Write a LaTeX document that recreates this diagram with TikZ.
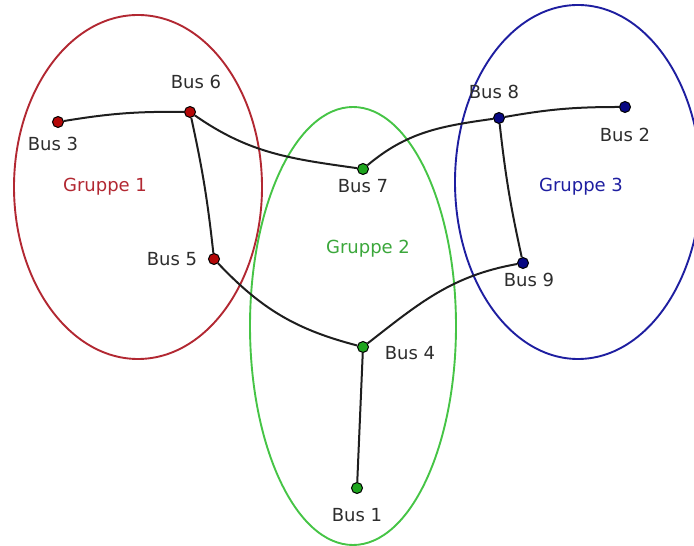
\documentclass[tikz,border=0pt]{standalone}
\usepackage{fontspec}
\setmainfont{DejaVu Sans}
\usetikzlibrary{positioning}

\definecolor{grpred}{RGB}{178,40,50}
\definecolor{grpgreen}{RGB}{70,196,70}
\definecolor{grpblue}{RGB}{30,30,160}
\definecolor{busred}{RGB}{180,8,8}
\definecolor{busgreen}{RGB}{30,165,30}
\definecolor{busblue}{RGB}{8,8,130}
\definecolor{txtgray}{RGB}{45,45,45}
\definecolor{linegray}{RGB}{30,30,30}

\begin{document}
\begin{tikzpicture}
      [ x=1pt, y=1pt
        , node distance=20pt, on grid
        , every node/.style={text=txtgray, font=\fontsize{18}{20}\selectfont, inner sep=0pt}
        , bus/.style={circle, draw=black, line width=1pt, minimum size=11pt}
        , line/.style={line width=2pt, draw=linegray}
        , grp/.style={line width=1.9pt}
      ]
      \useasboundingbox (0,0) rectangle (694,546);

      % the three groups
      \draw[grp, draw=grpred] (138,359) ellipse [x radius=124, y radius=172];
      \draw[grp, draw=grpgreen] (353,220) ellipse [x radius=103, y radius=219];
      \draw[grp, draw=grpblue] (578,364) ellipse [x radius=123, y radius=177];

      \node (g1) [text=grpred] at (105,359) {Gruppe 1};
      \node (g2) [text=grpgreen!85!black] at (368,297) {Gruppe 2};
      \node (g3) [text=grpblue] at (581,359) {Gruppe 3};

      % buses
      \node (b3) [bus, fill=busred] at (58,424) {};
      \node (b6) [bus, fill=busred] at (190,434) {};
      \node (b5) [bus, fill=busred] at (214,287) {};
      \node (b7) [bus, fill=busgreen] at (363,377) {};
      \node (b4) [bus, fill=busgreen] at (363,199) {};
      \node (b1) [bus, fill=busgreen] at (357,58) {};
      \node (b8) [bus, fill=busblue] at (499,428) {};
      \node (b2) [bus, fill=busblue] at (625,439) {};
      \node (b9) [bus, fill=busblue] at (523,283) {};

      \node (t3) [below left=22pt and 5pt of b3] {Bus 3};
      \node (t6) [above right=30pt and 6pt of b6] {Bus 6};
      \node (t5) [left=42pt of b5] {Bus 5};
      \node (t7) [below=17pt of b7] {Bus 7};
      \node (t4) [below right=6pt and 47pt of b4] {Bus 4};
      \node (t1) [below=27pt of b1] {Bus 1};
      \node (t8) [above left=26pt and 5pt of b8] {Bus 8};
      \node (t2) [below=28pt of b2] {Bus 2};
      \node (t9) [below right=17pt and 6pt of b9] {Bus 9};

      % lines
      \draw[line] (b3) to [bend left=5] (b6);
      \draw[line] (b6) to [bend left=3] (b5);
      \draw[line] (b6) to [out=-35, in=172] (b7);
      \draw[line] (b5) to [bend right=16] (b4);
      \draw[line] (b4) -- (b1);
      \draw[line] (b7) to [out=40, in=188] (b8);
      \draw[line] (b8) to [bend left=5] (b2);
      \draw[line] (b8) to [bend right=3] (b9);
      \draw[line] (b4) to [out=38, in=190] (b9);

    \end{tikzpicture}
\end{document}
